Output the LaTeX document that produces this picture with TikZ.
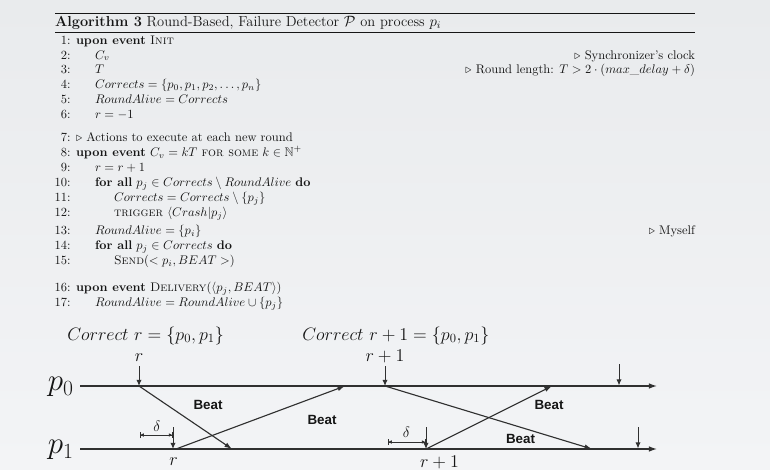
\documentclass[tikz,border=0pt]{standalone}
\usepackage{amsmath,amssymb}
\usepackage{fontspec}
\newfontfamily\beatfont{Liberation Sans}
\usetikzlibrary{arrows.meta,shadings}
\definecolor{bgtop}{RGB}{233,235,237}
\definecolor{bgbot}{RGB}{243,244,246}
\definecolor{ink}{RGB}{22,22,22}
\definecolor{lin}{RGB}{48,48,48}
\begin{document}
\begin{tikzpicture}[x=0.8pt,y=-0.8pt,
  alg/.style={anchor=base west,inner sep=0pt,outer sep=0pt,font=\fontsize{10}{12}\selectfont,text=ink},
  num/.style={alg,anchor=base east},
  cmt/.style={alg,anchor=base east},
  capt/.style={alg,font=\fontsize{11.6}{14}\selectfont},
  big/.style={anchor=base,inner sep=0pt,font=\fontsize{14}{16}\selectfont,text=ink},
  plab/.style={anchor=base east,inner sep=0pt,font=\fontsize{24}{28}\selectfont,text=ink},
  dl/.style={anchor=base,inner sep=0pt,font=\fontsize{12}{14}\selectfont,text=ink},
  beat/.style={inner sep=0pt,font=\beatfont\bfseries\fontsize{10.7}{12}\selectfont,text=ink},
  tl/.style={draw=lin,line width=1pt,-{Latex[length=6.5pt,width=4.5pt]}},
  darr/.style={draw=lin,line width=0.8pt,-{Latex[length=5pt,width=4.2pt]}},
  msg/.style={draw=lin,line width=0.9pt,-{Latex[length=6pt,width=4pt]}},
  dbar/.style={draw=lin,line width=0.6pt,{Bar[width=5pt]}-{Bar[width=5pt]}},
  dhead/.style={draw=lin,line width=0.6pt,{Latex[length=3pt,width=3pt]}-{Latex[length=3pt,width=3pt]}}
  ]
% background
\fill[top color=bgtop,bottom color=bgbot] (0,0) rectangle (770,469);
\useasboundingbox (0,0) rectangle (770,469);

% rules
\coordinate (rl) at (55,13); \coordinate (rr) at (695,13);
\coordinate (ml) at (55,32); \coordinate (mr) at (695,32);
\draw[ink,line width=0.8pt] (rl) -- (rr);
\draw[ink,line width=0.5pt] (ml) -- (mr);

\node[capt] (cap) at (55,26.5) {\textbf{Algorithm 3} Round-Based, Failure Detector $\mathcal{P}$ on process $p_i$};

% line numbers
\node[num] (n1) at (70.5,44.5) {1:};
\node[num] (n2) at (70.5,59) {2:};
\node[num] (n3) at (70.5,73.5) {3:};
\node[num] (n4) at (70.5,88.5) {4:};
\node[num] (n5) at (70.5,103) {5:};
\node[num] (n6) at (70.5,118) {6:};
\node[num] (n7) at (70.5,141.5) {7:};
\node[num] (n8) at (70.5,156.5) {8:};
\node[num] (n9) at (70.5,171.5) {9:};
\node[num] (n10) at (70.5,186.5) {10:};
\node[num] (n11) at (70.5,201.5) {11:};
\node[num] (n12) at (70.5,216.5) {12:};
\node[num] (n13) at (70.5,234.5) {13:};
\node[num] (n14) at (70.5,249.5) {14:};
\node[num] (n15) at (70.5,264.5) {15:};
\node[num] (n16) at (70.5,291.5) {16:};
\node[num] (n17) at (70.5,306.5) {17:};

% statements
\node[alg] (t1) at (76,44.5) {\textbf{upon event} \textsc{Init}};
\node[alg] (t2) at (95,59) {$C_v$};
\node[alg] (t3) at (95,73.5) {$T$};
\node[alg] (t4) at (95,88.5) {$Corrects = \{p_0,p_1,p_2,\ldots,p_n\}$};
\node[alg] (t5) at (95,103) {$RoundAlive = Corrects$};
\node[alg] (t6) at (95,118) {$r=-1$};
\node[alg] (t7) at (76,141.5) {$\triangleright$ Actions to execute at each new round};
\node[alg] (t8) at (76,156.5) {\textbf{upon event} $C_v = kT$ \textsc{for some} $k \in \mathbb{N}^{+}$};
\node[alg] (t9) at (95,171.5) {$r=r+1$};
\node[alg] (t10) at (95,186.5) {\textbf{for all} $p_j \in Corrects \setminus RoundAlive$ \textbf{do}};
\node[alg] (t11) at (114,201.5) {$Corrects = Corrects \setminus \{p_j\}$};
\node[alg] (t12) at (114,216.5) {\textsc{trigger} $\langle Crash|p_j\rangle$};
\node[alg] (t13) at (95,234.5) {$RoundAlive = \{p_i\}$};
\node[alg] (t14) at (95,249.5) {\textbf{for all} $p_j \in Corrects$ \textbf{do}};
\node[alg] (t15) at (114,264.5) {\textsc{Send}($<p_i, BEAT>$)};
\node[alg] (t16) at (76,291.5) {\textbf{upon event} \textsc{Delivery}($\langle p_j, BEAT\rangle$)};
\node[alg] (t17) at (95,306.5) {$RoundAlive = RoundAlive \cup \{p_j\}$};

% comments
\node[cmt] (c2) at (695,59) {$\triangleright$ Synchronizer's clock};
\node[cmt] (c3) at (695,73.5) {$\triangleright$ Round length: $T > 2\cdot(max\_delay+\delta)$};
\node[cmt] (c13) at (695,234.5) {$\triangleright$ Myself};

% ---------- diagram ----------
\node[big,anchor=base west] (cr) at (67,340) {$Correct\ r = \{p_0,p_1\}$};
\node[big,anchor=base west] (cr1) at (302,340) {$Correct\ r+1 = \{p_0,p_1\}$};

\coordinate (A0) at (80,386); \coordinate (B0) at (657,386);
\coordinate (A1) at (80,449); \coordinate (B1) at (657,449);
\draw[tl] (A0) -- (B0);
\draw[tl] (A1) -- (B1);
\node[plab] (P0) at (74,390.5) {$p_0$};
\node[plab] (P1) at (74,453.5) {$p_1$};

% round markers
\coordinate (u1s) at (139,366); \coordinate (u1) at (139,386);
\coordinate (u2s) at (385,366); \coordinate (u2) at (385,386);
\coordinate (u3s) at (619,364); \coordinate (u3) at (619,385.5);
\coordinate (v1s) at (173,427); \coordinate (v1) at (173,449);
\coordinate (v2s) at (426,427); \coordinate (v2) at (426,449);
\coordinate (v3s) at (638,427); \coordinate (v3) at (638,448.5);
\draw[darr] (u1s) -- (u1);
\draw[darr] (u2s) -- (u2);
\draw[darr] (u3s) -- (u3);
\draw[darr] (v1s) -- (v1);
\draw[darr] (v2s) -- (v2);
\draw[darr] (v3s) -- (v3);

\node[big] (lr) at (139,361.5) {$r$};
\node[big] (lr1) at (385,361.5) {$r+1$};
\node[big] (lbr) at (173.5,465.5) {$r$};
\node[big] (lbr1) at (439.5,467) {$r+1$};

% beat messages
\coordinate (m1e) at (232,449);
\coordinate (m2s) at (176,449); \coordinate (m2e) at (345,386);
\coordinate (m3e) at (592,449);
\coordinate (m4e) at (552,386);
\draw[msg] (u1) -- (m1e);
\draw[msg] (m2s) -- (m2e);
\draw[msg] (u2) -- (m3e);
\draw[msg] (v2) -- (m4e);

\node[beat] (b1) at (208,404.5) {Beat};
\node[beat] (b2) at (322,419.5) {Beat};
\node[beat] (b3) at (549,404.5) {Beat};
\node[beat] (b4) at (520.5,438.5) {Beat};

% delta brackets
\coordinate (d1a) at (140,435); \coordinate (d1b) at (172.5,435);
\coordinate (d2a) at (388,442); \coordinate (d2b) at (425.5,442);
\draw[dbar] (d1a) -- (d1b);
\draw[dhead] (d1a) -- (d1b);
\draw[dbar] (d2a) -- (d2b);
\draw[dhead] (d2a) -- (d2b);
\node[dl] (dl1) at (157,431) {$\delta$};
\node[dl] (dl2) at (406.5,437) {$\delta$};
\end{tikzpicture}
\end{document}
